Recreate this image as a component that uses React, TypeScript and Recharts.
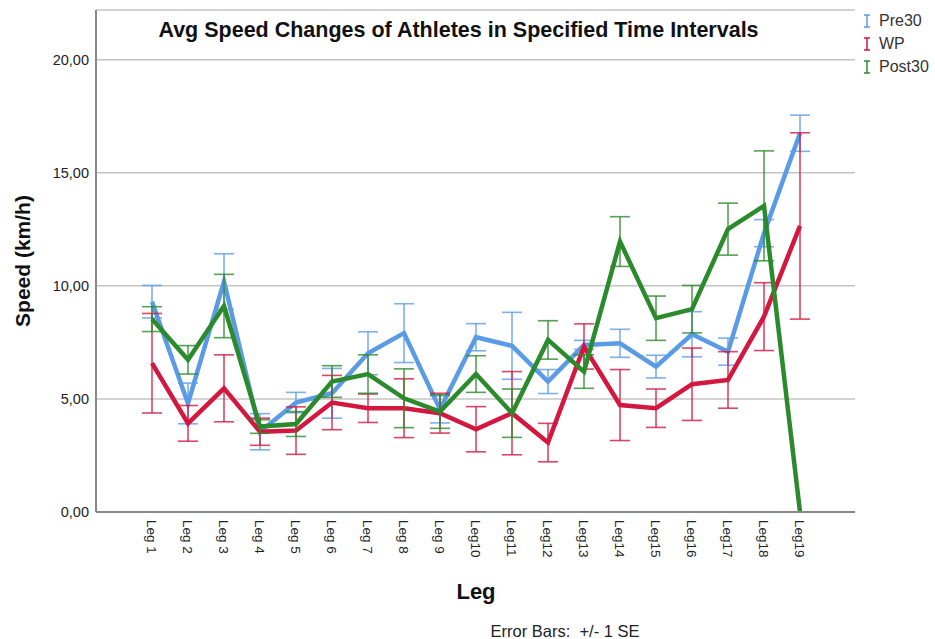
import React from 'react';
import { LineChart, Line, XAxis, YAxis, CartesianGrid, ErrorBar, Legend } from 'recharts';

const legs = ['Leg 1', 'Leg 2', 'Leg 3', 'Leg 4', 'Leg 5', 'Leg 6', 'Leg 7', 'Leg 8', 'Leg 9', 'Leg10', 'Leg11', 'Leg12', 'Leg13', 'Leg14', 'Leg15', 'Leg16', 'Leg17', 'Leg18', 'Leg19'];
const pre30 = [9.3, 4.8, 10.19, 3.55, 4.84, 5.25, 7.02, 7.91, 4.54, 7.73, 7.35, 5.77, 7.39, 7.46, 6.43, 7.86, 7.09, 12.33, 16.75];
const pre30Se = [0.72, 0.9, 1.23, 0.8, 0.45, 1.1, 0.95, 1.3, 0.6, 0.6, 1.48, 0.53, 0.2, 0.62, 0.5, 1.0, 0.6, 0.6, 0.8];
const wp = [6.58, 3.92, 5.47, 3.55, 3.6, 4.84, 4.59, 4.59, 4.37, 3.66, 4.37, 3.07, 7.32, 4.73, 4.59, 5.65, 5.84, 8.64, 12.65];
const wpSe = [2.2, 0.79, 1.48, 0.6, 1.05, 1.2, 0.63, 1.3, 0.88, 1.0, 1.84, 0.85, 1.0, 1.57, 0.85, 1.6, 1.25, 1.5, 4.12];
const post30 = [8.53, 6.73, 9.11, 3.78, 3.89, 5.77, 6.1, 5.03, 4.44, 6.1, 4.37, 7.61, 6.21, 11.96, 8.57, 8.97, 12.51, 13.54, 0];
const post30Se = [0.55, 0.63, 1.4, 0.3, 0.55, 0.7, 0.85, 1.3, 0.74, 0.81, 1.07, 0.85, 0.74, 1.1, 0.98, 1.05, 1.15, 2.43, 0];
const yTicks = [0, 5, 10, 15, 20];

const series = [
  { key: 'pre30', name: 'Pre30', color: '#5b9be6' },
  { key: 'wp', name: 'WP', color: '#d3173f' },
  { key: 'post30', name: 'Post30', color: '#2b8a2b' },
];

const data = legs.map((leg, i) => ({
  leg,
  pre30: pre30[i],
  pre30Se: pre30Se[i],
  wp: wp[i],
  wpSe: wpSe[i],
  post30: post30[i],
  post30Se: post30Se[i],
}));

const FONT = '"Liberation Sans", Arial, sans-serif';

const XTick = (props: any) => {
  const { x, y, payload } = props;
  return (
    <text
      transform={`translate(${x},${y}) rotate(90)`}
      textAnchor="start"
      dy="0.35em"
      fontSize={13.5}
      fontFamily={FONT}
      fill="#222"
    >
      {payload.value}
    </text>
  );
};

const LegendContent = () => (
  <div style={{ fontFamily: FONT, fontSize: 16, color: '#333' }}>
    {series.map((s) => (
      <div key={s.key} style={{ display: 'flex', alignItems: 'center', height: 23 }}>
        <svg width={14} height={16} style={{ marginRight: 5 }}>
          <line x1={4} x2={10} y1={2} y2={2} stroke={s.color} strokeWidth={1.5} />
          <line x1={7} x2={7} y1={2} y2={14} stroke={s.color} strokeWidth={1.5} />
          <line x1={4} x2={10} y1={14} y2={14} stroke={s.color} strokeWidth={1.5} />
        </svg>
        <span>{s.name}</span>
      </div>
    ))}
  </div>
);

export default function App() {
  return (
    <div style={{ position: 'absolute', left: 0, top: 0, width: 935, height: 639, background: '#fff' }}>
      <LineChart width={935} height={639} data={data} margin={{ top: 10, right: 80, bottom: 67, left: 0 }}>
        <CartesianGrid horizontal vertical={false} stroke="#c4c4c4" strokeWidth={1.5} />
        <XAxis
          dataKey="leg"
          interval={0}
          padding={{ left: 56, right: 55 }}
          height={60}
          axisLine={{ stroke: '#888', strokeWidth: 2 }}
          tickLine={false}
          tickSize={0}
          tickMargin={8}
          tick={<XTick />}
        />
        <YAxis
          width={96}
          domain={[0, 22.2]}
          ticks={yTicks}
          allowDataOverflow
          tickFormatter={(v: number) => v.toFixed(2).replace('.', ',')}
          tick={{ fontSize: 14.5, fill: '#222', fontFamily: FONT }}
          axisLine={{ stroke: '#888', strokeWidth: 2 }}
          tickLine={false}
          tickSize={0}
          tickMargin={7}
        />
        <Legend
          layout="vertical"
          verticalAlign="middle"
          align="center"
          content={<LegendContent />}
          wrapperStyle={{ position: 'absolute', left: 860, top: 9, width: 75 }}
        />
        {series.map((s) => (
          <Line
            key={s.key}
            type="linear"
            dataKey={s.key}
            name={s.name}
            stroke={s.color}
            strokeWidth={4.5}
            dot={false}
            activeDot={false}
            isAnimationActive={false}
          >
            <ErrorBar dataKey={`${s.key}Se`} width={10} stroke={s.color} strokeWidth={1.6} strokeOpacity={0.8} direction="y" />
          </Line>
        ))}
      </LineChart>
      <div style={{ position: 'absolute', left: 0, top: 18, width: 917, textAlign: 'center', fontFamily: FONT, fontWeight: 'bold', fontSize: 21.5, color: '#111' }}>
        Avg Speed Changes of Athletes in Specified Time Intervals
      </div>
      <div style={{ position: 'absolute', left: 23, top: 261, transform: 'translate(-50%,-50%) rotate(-90deg)', whiteSpace: 'nowrap', fontFamily: FONT, fontWeight: 'bold', fontSize: 21, color: '#111' }}>
        Speed (km/h)
      </div>
      <div style={{ position: 'absolute', left: 476, top: 592, transform: 'translate(-50%,-50%)', fontFamily: FONT, fontWeight: 'bold', fontSize: 22, color: '#111' }}>
        Leg
      </div>
      <div style={{ position: 'absolute', left: 565, top: 631, transform: 'translate(-50%,-50%)', whiteSpace: 'pre', fontFamily: FONT, fontSize: 16.5, color: '#222' }}>
        {'Error Bars:  +/- 1 SE'}
      </div>
    </div>
  );
}
